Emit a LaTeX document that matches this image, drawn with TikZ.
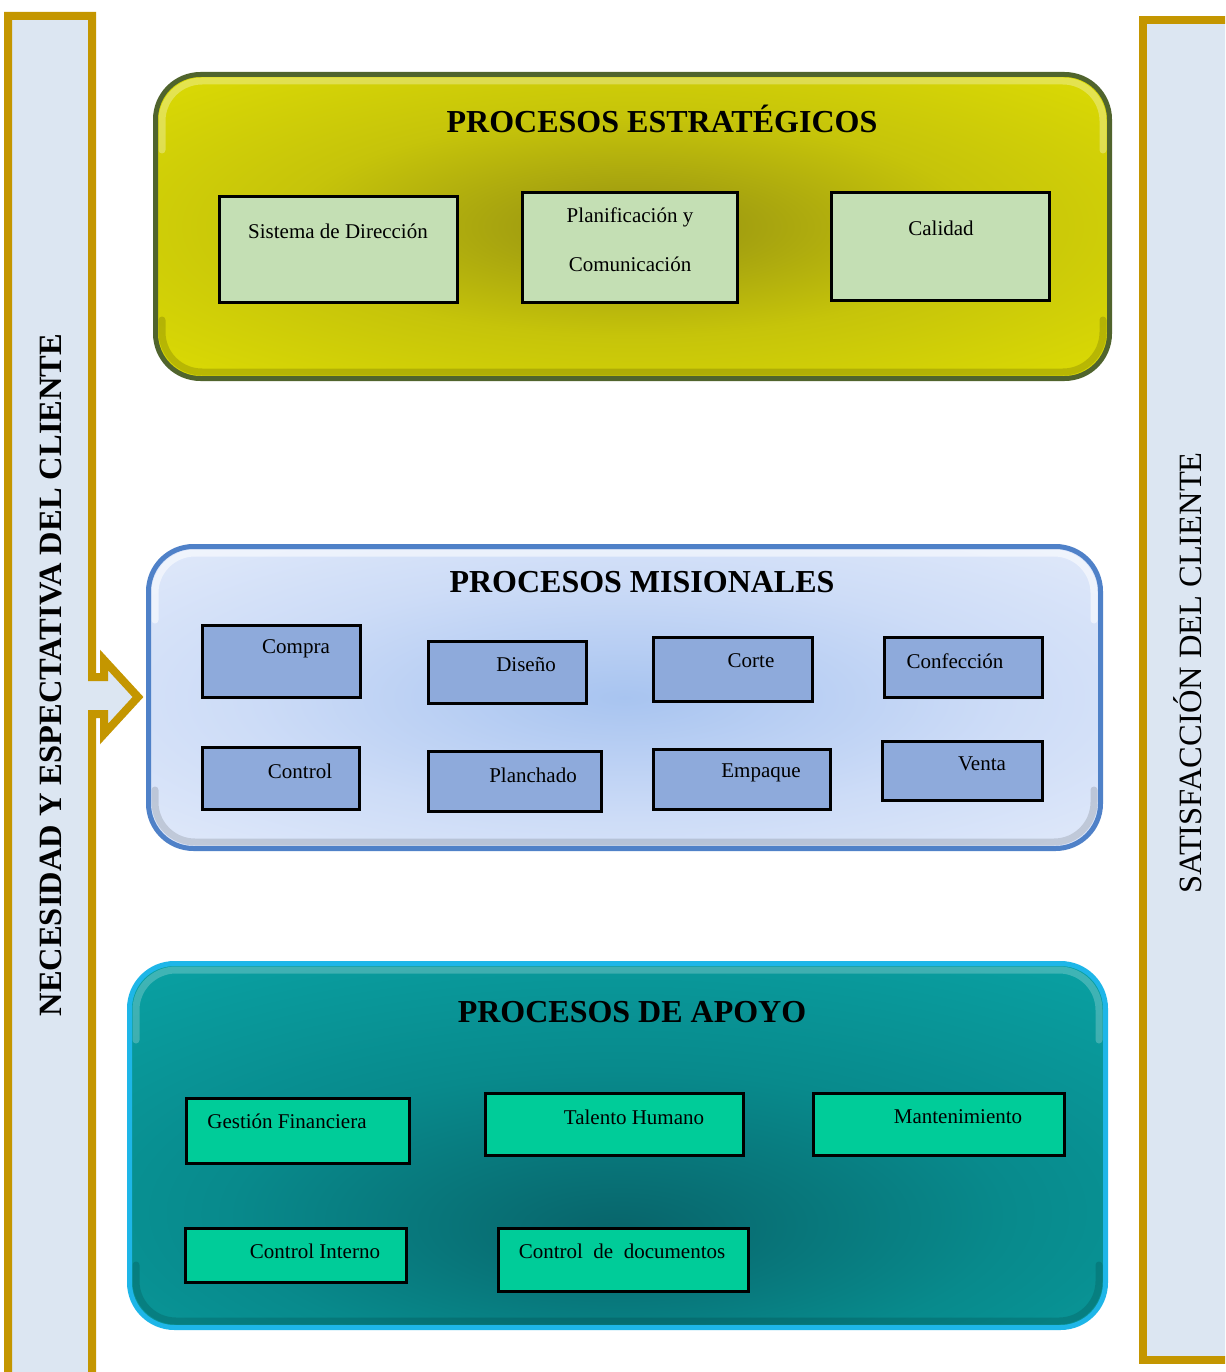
\documentclass[tikz,border=0pt]{standalone}
\usepackage{fontspec}
\setmainfont{Liberation Serif}
\definecolor{gold}{RGB}{196,150,0}
\definecolor{barfill}{RGB}{220,230,242}
\definecolor{yC}{RGB}{148,144,18}
\definecolor{yM}{RGB}{198,196,10}
\definecolor{yO}{RGB}{232,232,0}
\definecolor{yB}{RGB}{80,100,45}
\definecolor{bC}{RGB}{168,196,240}
\definecolor{bM}{RGB}{205,220,247}
\definecolor{bO}{RGB}{236,241,252}
\definecolor{bB}{RGB}{79,129,200}
\definecolor{tC}{RGB}{8,100,106}
\definecolor{tM}{RGB}{8,138,140}
\definecolor{tO}{RGB}{10,166,168}
\definecolor{tB}{RGB}{30,182,232}
\definecolor{gfill}{RGB}{196,223,180}
\definecolor{blfill}{RGB}{142,170,219}
\definecolor{mfill}{RGB}{0,204,153}
\pgfdeclareradialshading{yelshade}{\pgfpoint{0bp}{0bp}}{color(0bp)=(yC); color(18bp)=(yM); color(45bp)=(yO); color(100bp)=(yO)}
\pgfdeclareradialshading{blushade}{\pgfpoint{0bp}{0bp}}{color(0bp)=(bC); color(20bp)=(bM); color(45bp)=(bO); color(100bp)=(bO)}
\pgfdeclareradialshading{tealshade}{\pgfpoint{0bp}{-12bp}}{color(0bp)=(tC); color(20bp)=(tM); color(45bp)=(tO); color(100bp)=(tO)}
\begin{document}
\begin{tikzpicture}[x=1pt,y=-1pt,
  panel/.style={line width=5pt, rounded corners=45pt},
  hilite/.style={line width=7pt, rounded corners=40pt, line cap=round},
  pbox/.style={draw=black, line width=3pt, inner sep=0pt},
  gbox/.style={pbox, fill=gfill},
  bbox/.style={pbox, fill=blfill},
  mbox/.style={pbox, fill=mfill},
  lbl/.style={font=\fontsize{21}{24}\selectfont, inner sep=0pt},
  ttl/.style={font=\bfseries\fontsize{32}{34}\selectfont, inner sep=0pt}]
\path[use as bounding box, clip] (0,0) rectangle (1225,1372);
\fill[white] (0,0) rectangle (1225,1372);

% side bars
\draw[gold, line width=8pt, fill=barfill, line join=miter] (8,1390) -- (8,16) -- (92,16) -- (92,677) -- (104,677) -- (104,660) -- (138,697) -- (104,734) -- (104,714) -- (92,714) -- (92,1390);
\draw[gold, line width=8pt, fill=barfill, line join=miter] (1240,20) -- (1143,20) -- (1143,1360) -- (1240,1360);
\node[rotate=90, font=\bfseries\fontsize{32.5}{34}\selectfont, inner sep=0pt] (need) at (51,675) {NECESIDAD Y ESPECTATIVA DEL CLIENTE};
\node[rotate=90, font=\fontsize{32.5}{34}\selectfont, inner sep=0pt] (sat) at (1188,673) {SATISFACCIÓN DEL CLIENTE};

% top panel
\shade[shading=yelshade, rounded corners=45pt] (155.5,74.5) rectangle (1109.5,378.5);
\draw[hilite, white, opacity=.3] (162,150) -- (162,81) -- (1103,81) -- (1103,150);
\draw[hilite, black, opacity=.15] (162,320) -- (162,372) -- (1103,372) -- (1103,320);
\draw[panel, draw=yB] (155.5,74.5) rectangle (1109.5,378.5);
\node[ttl] (t1) at (662,119) {PROCESOS ESTRATÉGICOS};
\node[gbox, minimum width=238pt, minimum height=106pt] (sd) at (338.5,249.5) {};
\node[lbl] (sdl) at (338,231) {Sistema de Dirección};
\node[gbox, minimum width=215pt, minimum height=110pt] (pc) at (630,247.5) {};
\node[lbl, align=center, font=\fontsize{21}{49}\selectfont] (pcl) at (630,240) {Planificación y\\Comunicación};
\node[gbox, minimum width=218pt, minimum height=108pt] (ca) at (940.5,246.5) {};
\node[lbl] (cal) at (941,228) {Calidad};

% middle panel
\shade[shading=blushade, rounded corners=45pt] (148.5,546.5) rectangle (1100.5,848.5);
\draw[hilite, white, opacity=.55] (155,620) -- (155,553) -- (1094,553) -- (1094,620);
\draw[hilite, black, opacity=.13] (155,790) -- (155,842) -- (1094,842) -- (1094,790);
\draw[panel, draw=bB] (148.5,546.5) rectangle (1100.5,848.5);
\node[ttl] (t2) at (642,582) {PROCESOS MISIONALES};
\node[bbox, minimum width=158pt, minimum height=72pt] (co) at (281.5,661.5) {};
\node[lbl] (col) at (296,649) {Compra};
\node[bbox, minimum width=158pt, minimum height=62pt] (di) at (507.5,672.5) {};
\node[lbl] (dil) at (526,665) {Diseño};
\node[bbox, minimum width=159pt, minimum height=64pt] (cr) at (733,669.5) {};
\node[lbl] (crl) at (751,661) {Corte};
\node[bbox, minimum width=158pt, minimum height=60pt] (cf) at (963.5,667.5) {};
\node[lbl] (cfl) at (955,661) {Confección};
\node[bbox, minimum width=157pt, minimum height=62pt] (ct) at (281,778.5) {};
\node[lbl] (ctl) at (300,771) {Control};
\node[bbox, minimum width=173pt, minimum height=60pt] (pl) at (515,781.5) {};
\node[lbl] (pll) at (533,775) {Planchado};
\node[bbox, minimum width=177pt, minimum height=60pt] (em) at (742,779.5) {};
\node[lbl] (eml) at (761,773) {Empaque};
\node[bbox, minimum width=160pt, minimum height=59pt] (ve) at (962.5,771) {};
\node[lbl] (vel) at (982,764) {Venta};

% bottom panel
\shade[shading=tealshade, rounded corners=45pt] (129.5,963.5) rectangle (1105.5,1327.5);
\draw[hilite, white, opacity=.22] (136,1040) -- (136,970) -- (1099,970) -- (1099,1040);
\draw[hilite, black, opacity=.13] (136,1265) -- (136,1321) -- (1099,1321) -- (1099,1265);
\draw[panel, draw=tB] (129.5,963.5) rectangle (1105.5,1327.5);
\node[ttl] (t3) at (632,1012) {PROCESOS DE APOYO};
\node[mbox, minimum width=223pt, minimum height=65pt] (gf) at (298,1131) {};
\node[lbl] (gfl) at (287,1121) {Gestión Financiera};
\node[mbox, minimum width=258pt, minimum height=62pt] (th) at (614.5,1124.5) {};
\node[lbl] (thl) at (634,1117) {Talento Humano};
\node[mbox, minimum width=251pt, minimum height=62pt] (ma) at (939,1124.5) {};
\node[lbl] (mal) at (958,1117) {Mantenimiento};
\node[mbox, minimum width=221pt, minimum height=54pt] (ci) at (296,1255.5) {};
\node[lbl] (cil) at (315,1251) {Control Interno};
\node[mbox, minimum width=250pt, minimum height=63pt] (cd) at (623.5,1260) {};
\node[lbl] (cdl) at (622,1251) {Control\ \ de\ \ documentos};
\end{tikzpicture}
\end{document}
